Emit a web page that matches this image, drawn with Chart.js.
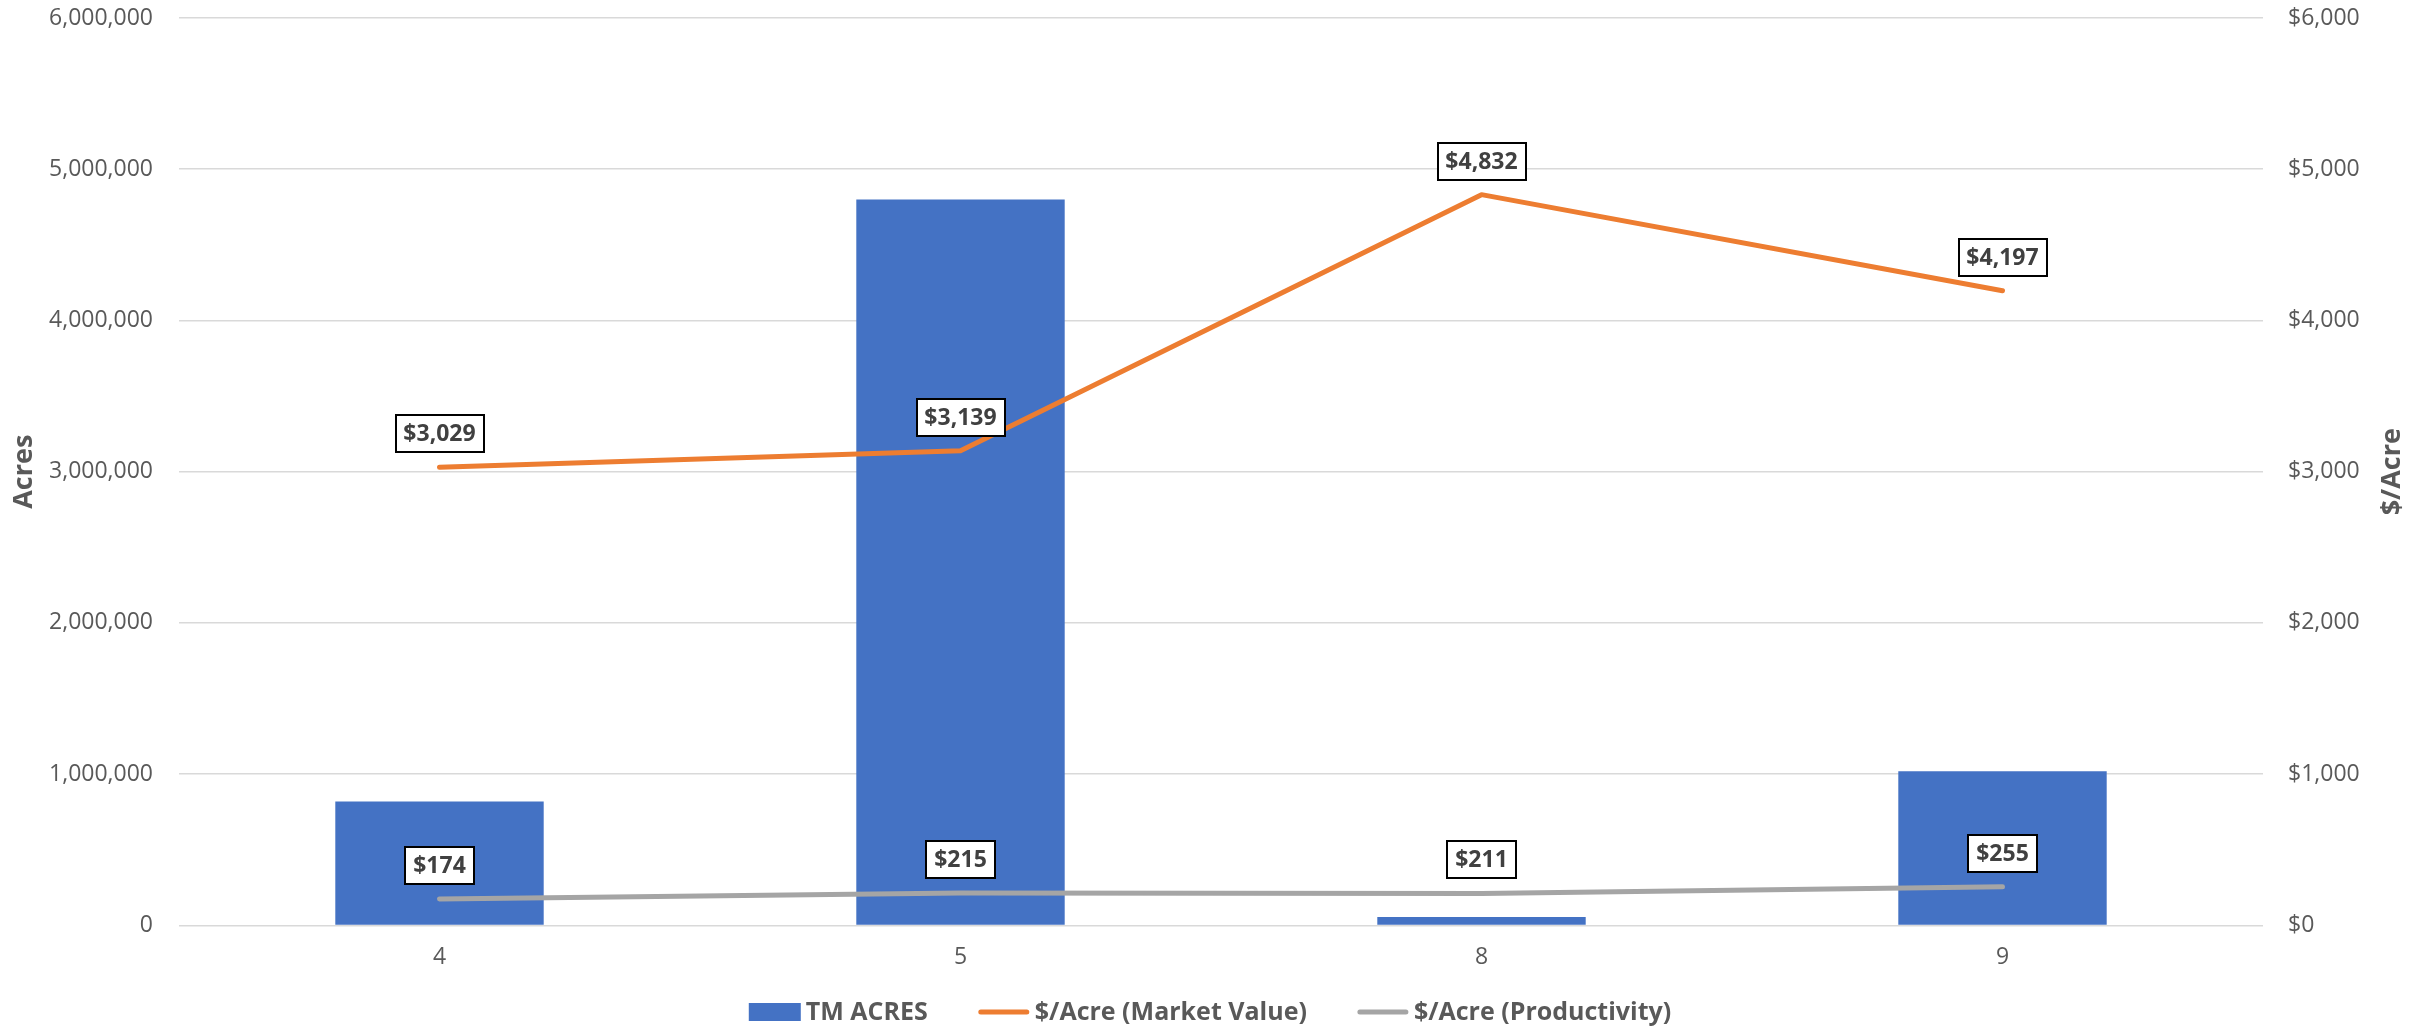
<!DOCTYPE html>
<html>
<head>
<meta charset="utf-8">
<script src="https://cdn.jsdelivr.net/npm/chart.js@4.4.1/dist/chart.umd.min.js"></script>
<style>
  html, body { margin: 0; padding: 0; background: #ffffff; }
  canvas { display: block; }
</style>
</head>
<body>
<canvas id="chart" width="2427" height="1027"></canvas>
<script>
// Categories and series
const categories = ['4', '5', '8', '9'];
const tmAcres = [820000, 4800000, 55000, 1020000];
const marketValue = [3029, 3139, 4832, 4197];
const productivity = [174, 215, 211, 255];

// Axis tick values
const acresTicks = [0, 1000000, 2000000, 3000000, 4000000, 5000000, 6000000];
const dollarTicks = [0, 1000, 2000, 3000, 4000, 5000, 6000];

const FONT = "'Open Sans', 'DejaVu Sans', sans-serif";
const TEXT_GREY = '#595959';
const BLUE = '#4472C4';
const ORANGE = '#ED7D31';
const GREY = '#A5A5A5';

const fmtNum = v => v.toLocaleString('en-US');
const fmtMoney = v => '$' + v.toLocaleString('en-US');

// Boxed value labels above each line point
const valueLabels = {
  id: 'valueLabels',
  afterDatasetsDraw(chart) {
    const ctx = chart.ctx;
    ctx.save();
    ctx.font = `bold 23px ${FONT}`;
    ctx.textAlign = 'center';
    ctx.textBaseline = 'middle';
    chart.data.datasets.forEach((ds, di) => {
      if (ds.type !== 'line') return;
      const meta = chart.getDatasetMeta(di);
      meta.data.forEach((pt, i) => {
        const text = fmtMoney(ds.data[i]);
        const w = Math.round(ctx.measureText(text).width + 16);
        const h = 37;
        const x = Math.round(pt.x - w / 2);
        const y = Math.round(pt.y - 15 - h);
        ctx.fillStyle = '#ffffff';
        ctx.fillRect(x, y, w, h);
        ctx.strokeStyle = '#000000';
        ctx.lineWidth = 2;
        ctx.strokeRect(x, y, w, h);
        ctx.fillStyle = '#404040';
        ctx.fillText(text, pt.x, y + h / 2 + 1);
      });
    });
    ctx.restore();
  }
};

// Rotated axis titles, both reading bottom-to-top
const axisTitles = {
  id: 'axisTitles',
  afterDraw(chart) {
    const ctx = chart.ctx;
    const area = chart.chartArea;
    const cy = (area.top + area.bottom) / 2;
    ctx.save();
    ctx.font = `bold 27px ${FONT}`;
    ctx.fillStyle = TEXT_GREY;
    ctx.textAlign = 'center';
    ctx.textBaseline = 'middle';
    [['Acres', 24], ['$/Acre', 2392]].forEach(([t, x]) => {
      ctx.save();
      ctx.translate(x, cy);
      ctx.rotate(-Math.PI / 2);
      ctx.fillText(t, 0, 0);
      ctx.restore();
    });
    ctx.restore();
  }
};

// Legend row under the axis
const bottomLegend = {
  id: 'bottomLegend',
  afterDraw(chart) {
    const ctx = chart.ctx;
    ctx.save();
    ctx.font = `bold 25px ${FONT}`;
    ctx.textBaseline = 'middle';
    ctx.textAlign = 'left';
    const symW = 52, symGap = 5, itemGap = 50;
    const items = chart.data.datasets.map(ds => ({
      label: ds.label, type: ds.type, color: ds.type === 'line' ? ds.borderColor : ds.backgroundColor,
      w: symW + symGap + ctx.measureText(ds.label).width
    }));
    const total = items.reduce((s, it) => s + it.w, 0) + itemGap * (items.length - 1);
    let x = 1210 - total / 2;
    const y = 1012;
    items.forEach(it => {
      if (it.type === 'line') {
        ctx.strokeStyle = it.color;
        ctx.lineWidth = 5;
        ctx.lineCap = 'round';
        ctx.beginPath();
        ctx.moveTo(x + 3, y);
        ctx.lineTo(x + symW - 3, y);
        ctx.stroke();
      } else {
        ctx.fillStyle = it.color;
        ctx.fillRect(x, y - 9, symW, 18);
      }
      ctx.fillStyle = TEXT_GREY;
      ctx.fillText(it.label, x + symW + symGap, y + 1);
      x += it.w + itemGap;
    });
    ctx.restore();
  }
};

const tickFont = { family: FONT, size: 23 };

// Fixed side widths; no extra vertical overflow padding from tick labels
const fitSide = width => s => {
  s.width = width;
  s.paddingTop = 0;
  s.paddingBottom = 0;
};

new Chart(document.getElementById('chart'), {
  data: {
    labels: categories,
    datasets: [
      {
        type: 'bar',
        label: 'TM ACRES',
        data: tmAcres,
        backgroundColor: BLUE,
        yAxisID: 'y',
        categoryPercentage: 0.4,
        barPercentage: 1.0,
        order: 3
      },
      {
        type: 'line',
        label: '$/Acre (Market Value)',
        data: marketValue,
        borderColor: ORANGE,
        backgroundColor: ORANGE,
        borderWidth: 5,
        borderCapStyle: 'round',
        borderJoinStyle: 'round',
        pointRadius: 0,
        tension: 0,
        yAxisID: 'y1',
        order: 1
      },
      {
        type: 'line',
        label: '$/Acre (Productivity)',
        data: productivity,
        borderColor: GREY,
        backgroundColor: GREY,
        borderWidth: 5,
        borderCapStyle: 'round',
        borderJoinStyle: 'round',
        pointRadius: 0,
        tension: 0,
        yAxisID: 'y1',
        order: 2
      }
    ]
  },
  options: {
    responsive: false,
    animation: false,
    devicePixelRatio: 1,
    layout: { padding: { top: 18, bottom: 38, left: 0, right: 0 } },
    plugins: {
      legend: { display: false },
      tooltip: { enabled: false }
    },
    scales: {
      x: {
        type: 'category',
        offset: true,
        grid: { display: false, drawTicks: false },
        border: { display: false },
        ticks: { font: tickFont, color: TEXT_GREY, padding: 18 }
      },
      y: {
        position: 'left',
        min: acresTicks[0],
        max: acresTicks[acresTicks.length - 1],
        afterBuildTicks: s => { s.ticks = acresTicks.map(v => ({ value: v })); },
        afterFit: fitSide(179),
        grid: { color: '#D9D9D9', lineWidth: 1.5, drawTicks: false },
        border: { display: false },
        ticks: { font: tickFont, color: TEXT_GREY, padding: 26, callback: v => fmtNum(v) }
      },
      y1: {
        position: 'right',
        min: dollarTicks[0],
        max: dollarTicks[dollarTicks.length - 1],
        afterBuildTicks: s => { s.ticks = dollarTicks.map(v => ({ value: v })); },
        afterFit: fitSide(164),
        grid: { display: false, drawTicks: false },
        border: { display: false },
        ticks: { font: tickFont, color: TEXT_GREY, padding: 25, callback: v => fmtMoney(v) }
      }
    }
  },
  plugins: [valueLabels, axisTitles, bottomLegend]
});
</script>
</body>
</html>
